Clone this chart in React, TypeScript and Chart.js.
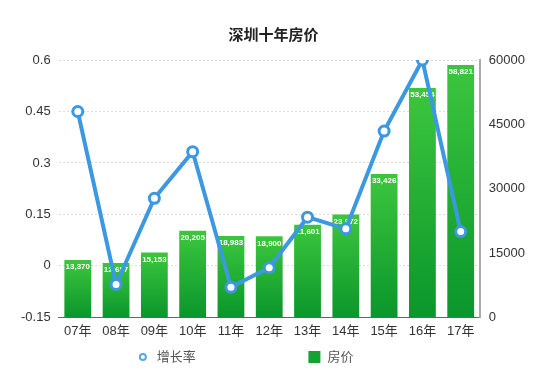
import React, { useEffect, useRef } from "react";
import { Chart, registerables } from "chart.js";

Chart.register(...registerables);

const title = "深圳十年房价";
const categories = ["07年", "08年", "09年", "10年", "11年", "12年", "13年", "14年", "15年", "16年", "17年"];
const growthLabel = "增长率";
const growthRate = [0.45, -0.054, 0.197, 0.333, -0.062, -0.005, 0.142, 0.108, 0.393, 0.6, 0.1];
const priceLabel = "房价";
const prices = [13370, 12657, 15153, 20205, 18983, 18900, 21601, 23972, 33426, 53454, 58821];
const leftTicks = [-0.15, 0, 0.15, 0.3, 0.45, 0.6];
const rightTicks = [0, 15000, 30000, 45000, 60000];

const FONT = '"Liberation Sans", "Noto Sans CJK SC", Arial, sans-serif';
const LINE_COLOR = "#3d98e2";
const BAR_TOP = "#3cc63e";
const BAR_BOTTOM = "#0a962b";

const barLabelPlugin = {
  id: "barLabels",
  afterDatasetDraw(chart: any, args: any) {
    if (args.index !== 1) return;
    const ctx = chart.ctx;
    const meta = chart.getDatasetMeta(1);
    ctx.save();
    ctx.font = `bold 8px ${FONT}`;
    ctx.fillStyle = "#ffffff";
    ctx.textAlign = "center";
    ctx.textBaseline = "top";
    meta.data.forEach((el: any, i: number) => {
      const v = prices[i];
      ctx.fillText(v.toLocaleString("en-US"), el.x, el.y + 3);
    });
    ctx.restore();
  },
};

const legendPlugin = {
  id: "customLegend",
  afterDraw(chart: any) {
    const ctx = chart.ctx;
    const area = chart.chartArea;
    const w = area.right - area.left;
    const y = chart.height - 28;
    ctx.save();
    ctx.font = `13px ${FONT}`;
    ctx.textBaseline = "middle";
    ctx.textAlign = "left";
    // line legend item
    const x1 = area.left + w * 0.2;
    ctx.beginPath();
    ctx.arc(x1, y, 3, 0, Math.PI * 2);
    ctx.fillStyle = "#ffffff";
    ctx.fill();
    ctx.lineWidth = 2;
    ctx.strokeStyle = "#5aa7dc";
    ctx.stroke();
    ctx.fillStyle = "#555";
    ctx.fillText(growthLabel, x1 + 14, y);
    // bar legend item
    const x2 = area.left + w * 0.593;
    ctx.fillStyle = "#14a332";
    ctx.fillRect(x2, y - 6, 12, 12);
    ctx.fillStyle = "#555";
    ctx.fillText(priceLabel, x2 + 19, y);
    ctx.restore();
  },
};

export default function App() {
  const ref = useRef<HTMLCanvasElement | null>(null);
  useEffect(() => {
    document.body.style.margin = "0";
    const canvas = ref.current;
    if (!canvas) return;
    const chart = new Chart(canvas, {
      type: "bar",
      data: {
        labels: categories,
        datasets: [
          {
            type: "line",
            label: growthLabel,
            data: growthRate,
            yAxisID: "y",
            borderColor: LINE_COLOR,
            backgroundColor: "#ffffff",
            borderWidth: 4,
            pointRadius: 5,
            pointBorderWidth: 3,
            pointBackgroundColor: "#ffffff",
            pointBorderColor: LINE_COLOR,
            tension: 0,
            order: 0,
          } as any,
          {
            type: "bar",
            label: priceLabel,
            data: prices,
            yAxisID: "y1",
            categoryPercentage: 0.7,
            barPercentage: 1,
            order: 1,
            backgroundColor: (c: any) => {
              const ch = c.chart;
              const s = ch.scales && ch.scales.y1;
              if (!s || c.dataIndex === undefined || !ch.chartArea) return BAR_BOTTOM;
              const top = s.getPixelForValue(prices[c.dataIndex]);
              const bottom = s.getPixelForValue(0);
              const g = ch.ctx.createLinearGradient(0, top, 0, bottom);
              g.addColorStop(0, BAR_TOP);
              g.addColorStop(1, BAR_BOTTOM);
              return g;
            },
          } as any,
        ],
      },
      options: {
        responsive: false,
        animation: false,
        layout: { padding: { left: 13, right: 16, top: 17, bottom: 40 } },
        plugins: {
          legend: { display: false },
          tooltip: { enabled: false },
          title: {
            display: true,
            text: title,
            color: "#222",
            font: { family: FONT, size: 15, weight: "bold" },
            padding: { top: 10, bottom: 15 },
          },
        },
        scales: {
          x: {
            grid: { display: false, drawTicks: false },
            border: { display: true, color: "#666", width: 1 },
            ticks: { color: "#333", font: { family: FONT, size: 13 }, padding: 6 },
          },
          y: {
            position: "left",
            min: leftTicks[0],
            max: leftTicks[leftTicks.length - 1],
            afterBuildTicks: (axis: any) => {
              axis.ticks = leftTicks.map((v) => ({ value: v }));
            },
            grid: { color: "#dcdcdc", drawTicks: false },
            border: { display: false, dash: [2, 2] },
            ticks: {
              color: "#333",
              font: { family: FONT, size: 13 },
              padding: 8,
              callback: (v: any) => String(parseFloat(Number(v).toFixed(2))),
            },
          },
          y1: {
            position: "right",
            min: rightTicks[0],
            max: rightTicks[rightTicks.length - 1],
            afterBuildTicks: (axis: any) => {
              axis.ticks = rightTicks.map((v) => ({ value: v }));
            },
            grid: { display: false, drawTicks: false },
            border: { display: true, color: "#aaa", width: 2 },
            ticks: {
              color: "#333",
              font: { family: FONT, size: 13 },
              padding: 9,
              callback: (v: any) => String(v),
            },
          },
        },
      },
      plugins: [barLabelPlugin, legendPlugin],
    });
    return () => chart.destroy();
  }, []);
  return (
    <div style={{ width: 550, height: 385, background: "#fff" }}>
      <canvas ref={ref} width={550} height={385} />
    </div>
  );
}
